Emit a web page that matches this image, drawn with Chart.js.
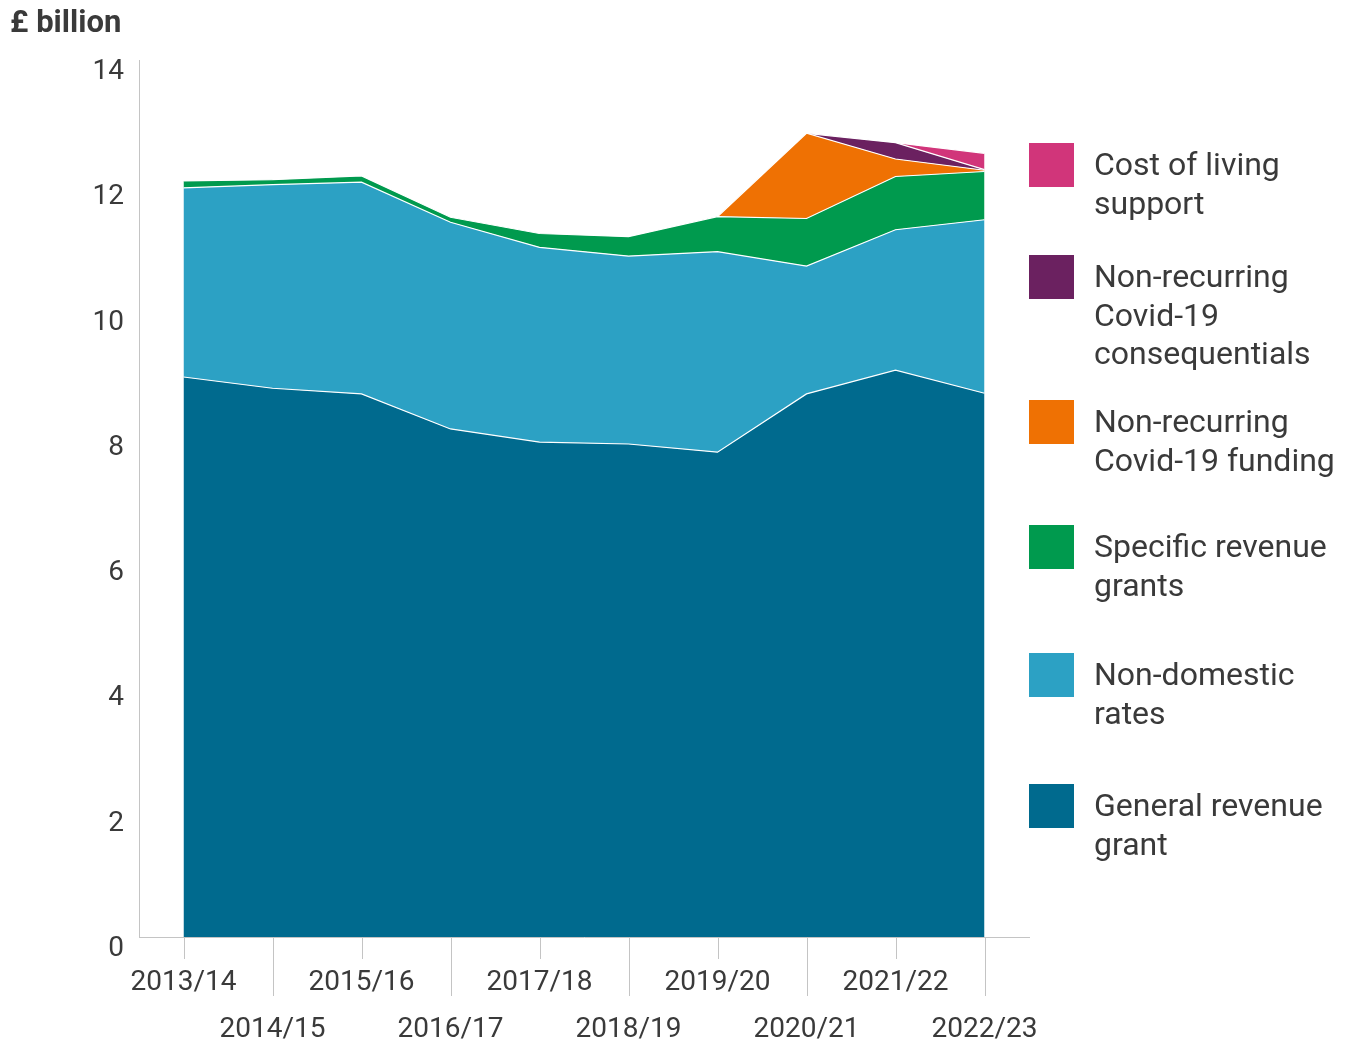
<!DOCTYPE html>
<html>
<head>
<meta charset="utf-8">
<script src="https://cdn.jsdelivr.net/npm/chart.js@4"></script>
<style>
    body { margin: 0; background: #fff; font-family: Roboto, sans-serif; color: #3a3a3a; }
    #wrap { position: relative; width: 1349px; height: 1042px; }
    #title { position: absolute; left: 10px; top: 3px; font-size: 31px; font-weight: bold; line-height: 38px; }
    .item { position: absolute; left: 1029px; }
    .sw { position: absolute; left: 0; top: 0; width: 45px; height: 44px; }
    .txt { position: absolute; left: 65px; top: 2px; font-size: 32px; line-height: 38.5px; white-space: nowrap; }
</style>
</head>
<body>
<div id="wrap">
    <canvas id="myChart" width="1349" height="1042"></canvas>
    <div id="title">£ billion</div>
    <div id="legend"></div>
</div>
<script>
// Data
const years = ['2013/14', '2014/15', '2015/16', '2016/17', '2017/18', '2018/19', '2019/20', '2020/21', '2021/22', '2022/23'];
const generalRevenueGrant = [8.94, 8.76, 8.67, 8.11, 7.90, 7.87, 7.74, 8.67, 9.05, 8.68];
const nonDomesticRates = [3.02, 3.25, 3.38, 3.30, 3.11, 3.00, 3.20, 2.04, 2.24, 2.77];
const specificRevenueGrants = [0.11, 0.08, 0.10, 0.08, 0.22, 0.31, 0.56, 0.76, 0.85, 0.77];
const covidFunding = [0, 0, 0, 0, 0, 0, 0, 1.36, 0.28, 0.02];
const covidConsequentials = [0, 0, 0, 0, 0, 0, 0, 0, 0.26, 0.01];
const costOfLiving = [0, 0, 0, 0, 0, 0, 0, 0, 0, 0.26];
const yTicks = [0, 2, 4, 6, 8, 10, 12, 14];

const series = [
    { label: 'General revenue grant', lines: ['General revenue', 'grant'], data: generalRevenueGrant, color: '#006a8e' },
    { label: 'Non-domestic rates', lines: ['Non-domestic', 'rates'], data: nonDomesticRates, color: '#2ca1c4' },
    { label: 'Specific revenue grants', lines: ['Specific revenue', 'grants'], data: specificRevenueGrants, color: '#009a4e' },
    { label: 'Non-recurring Covid-19 funding', lines: ['Non-recurring', 'Covid-19 funding'], data: covidFunding, color: '#ef7103' },
    { label: 'Non-recurring Covid-19 consequentials', lines: ['Non-recurring', 'Covid-19', 'consequentials'], data: covidConsequentials, color: '#6b2160' },
    { label: 'Cost of living support', lines: ['Cost of living', 'support'], data: costOfLiving, color: '#d1357a' },
];

// Legend (top to bottom = last series first)
const legendTops = [784, 653, 525, 400, 255, 143];
const legend = document.getElementById('legend');
series.forEach((s, i) => {
    const div = document.createElement('div');
    div.className = 'item';
    div.style.top = legendTops[i] + 'px';
    div.innerHTML = '<div class="sw" style="background:' + s.color + '"></div><div class="txt">' + s.lines.join('<br>') + '</div>';
    legend.appendChild(div);
});

// Alternating tick marks under the x axis
const tickMarks = {
    id: 'tickMarks',
    afterDraw(chart) {
        const x = chart.scales.x;
        const c = chart.ctx;
        c.save();
        c.strokeStyle = '#c4c4c4';
        c.lineWidth = 1;
        years.forEach((y, i) => {
            const px = Math.round(x.getPixelForValue(i)) + 0.5;
            c.beginPath();
            c.moveTo(px, x.top);
            c.lineTo(px, x.top + (i % 2 ? 59 : 22));
            c.stroke();
        });
        c.restore();
    }
};

const ctx = document.getElementById('myChart').getContext('2d');

const data = {
    labels: years,
    datasets: series.map((s, i) => ({
        label: s.label,
        data: s.data,
        backgroundColor: s.color,
        borderColor: '#ffffff',
        borderWidth: 1.2,
        pointRadius: 0,
        tension: 0,
        fill: i === 0 ? 'origin' : '-1',
    })),
};

const options = {
    responsive: false,
    animation: false,
    layout: { padding: { top: 60, right: 320, left: 0, bottom: 0 } },
    plugins: { legend: { display: false }, tooltip: { enabled: false } },
    scales: {
        x: {
            offset: true,
            grid: { display: false, drawTicks: false },
            border: { display: true, color: '#c4c4c4', width: 1 },
            afterFit: (scale) => { scale.height = 105; },
            ticks: {
                color: '#3a3a3a',
                font: { family: 'Roboto', size: 28, lineHeight: 1.68 },
                padding: 22,
                maxRotation: 0,
                autoSkip: false,
                callback: (v, i) => (i % 2 ? ['', years[i]] : years[i]),
            },
        },
        y: {
            stacked: true,
            min: 0,
            max: 14,
            grid: { display: false, drawTicks: false },
            border: { display: true, color: '#c4c4c4', width: 1 },
            afterFit: (scale) => { scale.width = 139; },
            afterBuildTicks: (scale) => { scale.ticks = yTicks.map(v => ({ value: v })); },
            ticks: {
                color: '#3a3a3a',
                font: { family: 'Roboto', size: 28 },
                padding: 15,
                labelOffset: 12,
            },
        },
    },
};

const myChart = new Chart(ctx, {
    type: 'line',
    data: data,
    options: options,
    plugins: [tickMarks],
});
</script>
</body>
</html>
